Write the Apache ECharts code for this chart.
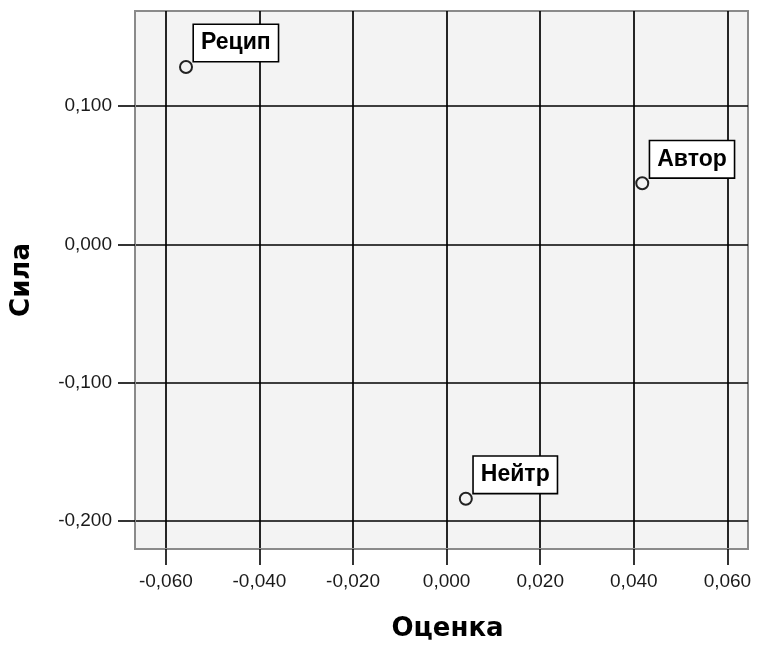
<!DOCTYPE html>
<html><head><meta charset="utf-8">
<script src="https://cdn.jsdelivr.net/npm/echarts@6/dist/echarts.min.js"></script>
<style>html,body{margin:0;padding:0;background:#fff}#c{width:760px;height:645px}</style>
</head><body><div id="c"></div>
<script>
// ---- data ----
const pointNames = ['Рецип', 'Автор', 'Нейтр'];
const ocenkaValues = [-0.0557, 0.0418, 0.0041];   // x: Оценка
const silaValues = [0.1283, 0.0442, -0.1840];     // y: Сила
const xTickValues = [-0.06, -0.04, -0.02, 0, 0.02, 0.04, 0.06];
const yTickValues = [-0.2, -0.1, 0, 0.1];
const xAxisTitle = 'Оценка';
const yAxisTitle = 'Сила';
const xRange = [-0.0666, 0.0644];
const yRange = [-0.2203, 0.1688];

const fmt = v => (Math.abs(v) < 1e-12 ? 0 : v).toFixed(3).replace('.', ',');
const points = pointNames.map((n, i) => ({ name: n, value: [ocenkaValues[i], silaValues[i]] }));

const chart = echarts.init(document.getElementById('c'), null, { renderer: 'canvas' });
const tickFont = { fontFamily: 'Liberation Sans, Arial, sans-serif', fontSize: 19, color: '#1a1a1a' };
const titleFont = { fontFamily: 'DejaVu Sans, sans-serif', fontSize: 26, fontWeight: 'bold', color: '#000' };

chart.setOption({
  animation: false,
  backgroundColor: '#fff',
  grid: { left: 135, right: 12, top: 11, bottom: 96, show: true, containLabel: false,
          outerBoundsMode: 'none',
          backgroundColor: '#f3f3f3', borderColor: '#8a8a8a', borderWidth: 2 },
  xAxis: {
    type: 'value', min: xRange[0], max: xRange[1],
    name: xAxisTitle, nameLocation: 'middle', nameGap: 67,
    nameTextStyle: Object.assign({ padding: [0, 0, 0, 12] }, titleFont),
    axisLine: { show: true, onZero: false, lineStyle: { color: '#8a8a8a', width: 2 } },
    axisTick: { show: true, inside: false, length: 16, customValues: xTickValues,
                lineStyle: { color: '#000', width: 1.6 } },
    axisLabel: Object.assign({ margin: 23, customValues: xTickValues, formatter: fmt }, tickFont),
    splitLine: { show: true, lineStyle: { color: '#000', width: 1.7 } }
  },
  yAxis: {
    type: 'value', min: yRange[0], max: yRange[1],
    name: yAxisTitle, nameLocation: 'middle', nameGap: 100,
    nameTextStyle: titleFont,
    axisLine: { show: true, onZero: false, lineStyle: { color: '#8a8a8a', width: 2 } },
    axisTick: { show: true, inside: false, length: 17, customValues: yTickValues,
                lineStyle: { color: '#000', width: 1.6 } },
    axisLabel: Object.assign({ margin: 23, customValues: yTickValues, formatter: fmt }, tickFont),
    splitLine: { show: true, lineStyle: { color: '#000', width: 1.7 } }
  },
  series: [{
    type: 'scatter',
    data: points,
    symbol: 'circle', symbolSize: 12,
    itemStyle: { color: '#f3f3f3', borderColor: '#222', borderWidth: 2, opacity: 1 },
    label: {
      show: true, formatter: '{b}',
      position: [15, 1], align: 'left', verticalAlign: 'bottom',
      fontFamily: 'Liberation Sans, Arial, sans-serif', fontSize: 23, fontWeight: 'bold',
      color: '#000', lineHeight: 24, opacity: 1,
      backgroundColor: '#fff', borderColor: '#000', borderWidth: 1.6,
      padding: [6, 7, 6, 7]
    },
    emphasis: { disabled: true }
  }]
});
</script></body></html>
